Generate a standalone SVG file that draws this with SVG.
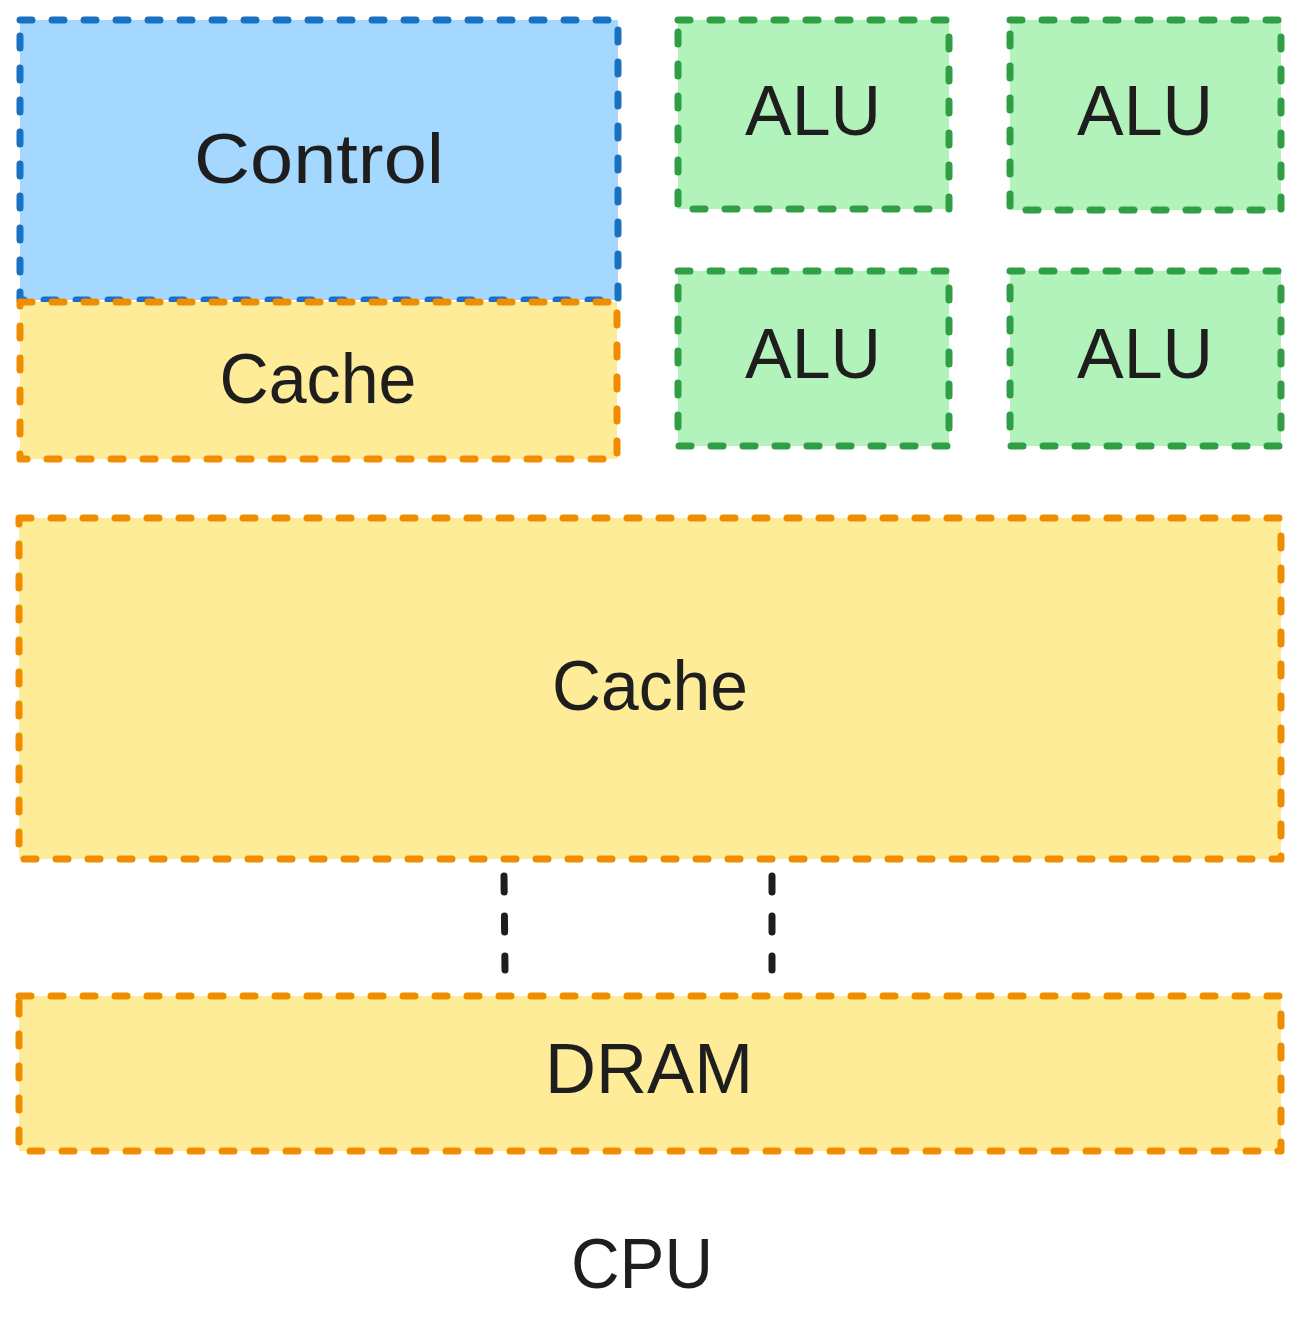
<svg xmlns="http://www.w3.org/2000/svg" width="1299" height="1336" viewBox="0 0 1299 1336">
<style>
.box{stroke-width:7;stroke-dasharray:12 20;stroke-linecap:round;stroke-linejoin:round}
.blue{fill:#a5d8ff;stroke:#1971c2}
.green{fill:#b2f2bb;stroke:#2f9e44}
.yellow{fill:#ffec99;stroke:#f08c00}
.lbl{font-family:"Liberation Sans","DejaVu Sans",sans-serif;font-size:70px;fill:#1e1e1e;text-anchor:middle}
.conn{stroke:#1e1e1e;stroke-width:7;stroke-dasharray:16 24;stroke-linecap:round;fill:none}
</style>
<rect width="1299" height="1336" fill="#ffffff"/>
<g id="control"><rect class="box blue" x="20" y="20" width="598" height="280"/><text class="lbl" x="319" y="183" textLength="250" lengthAdjust="spacingAndGlyphs">Control</text></g>
<g id="cache-small"><rect class="box yellow" x="20" y="302" width="597" height="157"/><text class="lbl" x="318" y="403" textLength="197" lengthAdjust="spacingAndGlyphs">Cache</text></g>
<g id="alu1"><rect class="box green" x="678" y="20" width="271" height="189"/><text class="lbl" x="813" y="135" textLength="136" lengthAdjust="spacingAndGlyphs">ALU</text></g>
<g id="alu2"><rect class="box green" x="1010" y="20" width="271" height="190"/><text class="lbl" x="1145" y="135" textLength="136" lengthAdjust="spacingAndGlyphs">ALU</text></g>
<g id="alu3"><rect class="box green" x="678" y="271" width="271" height="175"/><text class="lbl" x="813" y="378" textLength="136" lengthAdjust="spacingAndGlyphs">ALU</text></g>
<g id="alu4"><rect class="box green" x="1010" y="271" width="271" height="175"/><text class="lbl" x="1145" y="378" textLength="136" lengthAdjust="spacingAndGlyphs">ALU</text></g>
<g id="cache-big"><rect class="box yellow" x="19" y="518" width="1262" height="341"/><text class="lbl" x="650" y="710" textLength="196" lengthAdjust="spacingAndGlyphs">Cache</text></g>
<g id="dram"><rect class="box yellow" x="19" y="996" width="1262" height="155"/><text class="lbl" x="649" y="1093" textLength="208" lengthAdjust="spacingAndGlyphs">DRAM</text></g>
<g id="cpu-label"><text class="lbl" x="642" y="1288" textLength="142" lengthAdjust="spacingAndGlyphs">CPU</text></g>
<g id="connectors">
<line class="conn" x1="504" y1="876" x2="505" y2="970"/>
<line class="conn" x1="772" y1="876" x2="772" y2="970"/>
</g>
</svg>
